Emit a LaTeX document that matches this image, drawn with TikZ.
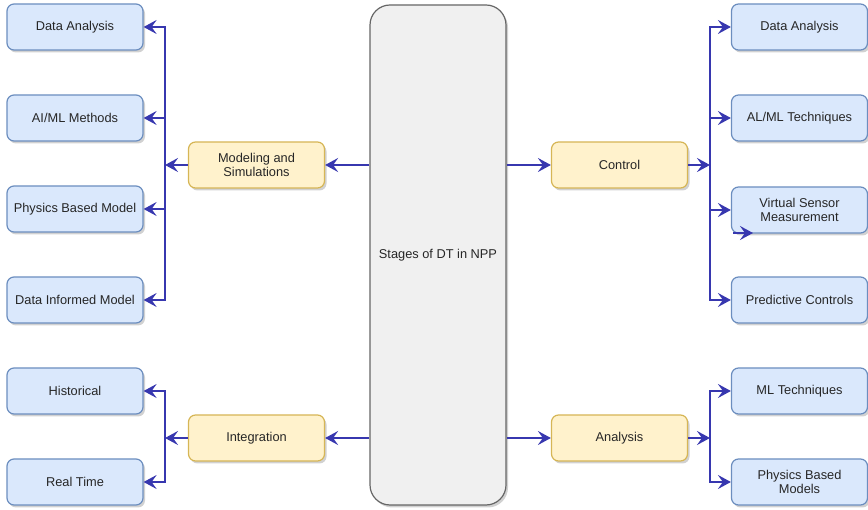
\documentclass[tikz,border=0pt]{standalone}
\usepackage{fontspec}
\setmainfont{Liberation Sans}
\usetikzlibrary{arrows.meta,shadows,calc}
\definecolor{leafFill}{HTML}{DAE8FC}
\definecolor{leafLine}{HTML}{6C8EBF}
\definecolor{stageFill}{HTML}{FFF2CC}
\definecolor{stageLine}{HTML}{D6B656}
\definecolor{hubFill}{HTML}{F0F0F0}
\definecolor{hubLine}{HTML}{666666}
\definecolor{linkCol}{RGB}{55,55,175}
\tikzset{
  boxshadow/.style={drop shadow={shadow xshift=2pt,shadow yshift=-2.5pt,opacity=0.3,fill=black!60}},
  leaf/.style={draw=leafLine,fill=leafFill,line width=1.2pt,rounded corners=7pt,
    minimum width=136pt,minimum height=46pt,align=center,text=black!85,
    font=\fontsize{12.8}{14.5}\selectfont,inner sep=1pt,boxshadow},
  stagebox/.style={leaf,draw=stageLine,fill=stageFill},
  hub/.style={draw=hubLine,fill=hubFill,line width=1.2pt,rounded corners=20pt,
    minimum width=136pt,minimum height=500pt,align=center,text=black!85,
    font=\fontsize{12.8}{14.5}\selectfont,boxshadow},
  link/.style={draw=linkCol,line width=2.8pt,
    -{Stealth[length=13pt,width=14pt,inset=5pt]}},
}
\begin{document}
\begin{tikzpicture}[x=1pt,y=-1pt]
\useasboundingbox (0,0) rectangle (868,510);

% central hub
\node[hub] (hub) at (438,255) {Stages of DT in NPP};

% stage boxes
\node[stagebox] (model) at (256.5,165) {Modeling and\\Simulations};
\node[stagebox] (integ) at (256.5,438) {Integration};
\node[stagebox] (ctrl)  at (619.5,165) {Control};
\node[stagebox] (anal)  at (619.5,438) {Analysis};

% left leaves
\node[leaf] (lDA)  at (75,27)  {Data Analysis};
\node[leaf] (lAI)  at (75,118) {AI/ML Methods};
\node[leaf] (lPB)  at (75,209) {Physics Based Model};
\node[leaf] (lDI)  at (75,300) {Data Informed Model};
\node[leaf] (lHi)  at (75,391) {Historical};
\node[leaf] (lRT)  at (75,482) {Real Time};

% right leaves
\node[leaf] (rDA)  at (799.5,27)  {Data Analysis};
\node[leaf] (rAL)  at (799.5,118) {AL/ML Techniques};
\node[leaf] (rVS)  at (799.5,210) {Virtual Sensor\\Measurement};
\node[leaf] (rPC)  at (799.5,300) {Predictive Controls};
\node[leaf] (rML)  at (799.5,391) {ML Techniques};
\node[leaf] (rPM)  at (799.5,482) {Physics Based\\Models};

% bus junctions
\coordinate (jM) at (165,165);
\coordinate (jI) at (165,438);
\coordinate (jC) at (710,165);
\coordinate (jA) at (710,438);
\coordinate (stray) at (733,233);

% hub to stages
\draw[link] (model.east -| hub.west) -- (model.east);
\draw[link] (integ.east -| hub.west) -- (integ.east);
\draw[link] (ctrl.west -| hub.east) -- (ctrl.west);
\draw[link] (anal.west -| hub.east) -- (anal.west);

% stages to junctions
\draw[link] (model.west) -- (jM);
\draw[link] (integ.west) -- (jI);
\draw[link] (ctrl.east) -- (jC);
\draw[link] (anal.east) -- (jA);

% junctions to leaves
\foreach \n in {lDA,lAI,lPB,lDI} \draw[link] (jM) |- (\n.east);
\foreach \n in {lHi,lRT} \draw[link] (jI) |- (\n.east);
\foreach \n in {rDA,rAL,rVS,rPC} \draw[link] (jC) |- (\n.west);
\foreach \n in {rML,rPM} \draw[link] (jA) |- (\n.west);

% short arrow at the sensor box
\draw[link] (stray) -- ++(20,0);
\end{tikzpicture}
\end{document}
